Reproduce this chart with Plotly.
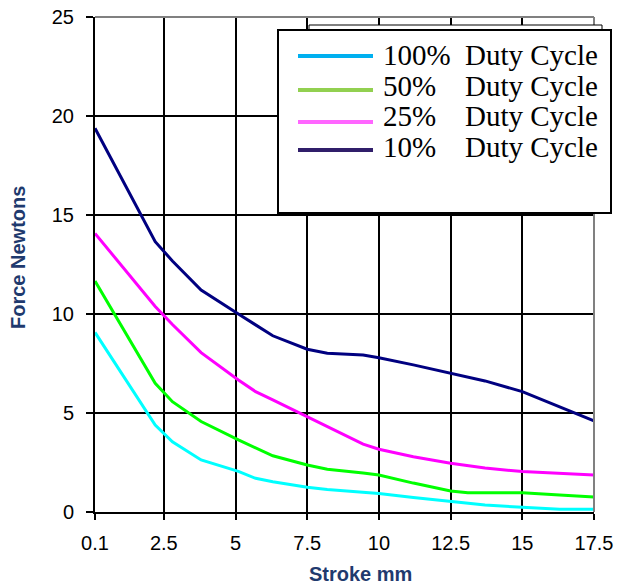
import plotly.graph_objects as go

# ---- data ----
stroke = [0.1, 2.2, 2.8, 3.8, 5.1, 5.7, 6.3, 7.5, 8.2, 9.45, 10.0, 11.2, 12.5, 13.1, 13.7, 15.0, 16.3, 17.5]
force_100 = [9.07, 4.39, 3.55, 2.63, 2.05, 1.70, 1.53, 1.25, 1.14, 1.01, 0.94, 0.73, 0.52, 0.44, 0.35, 0.24, 0.14, 0.14]
force_50 = [11.67, 6.50, 5.57, 4.57, 3.64, 3.25, 2.84, 2.37, 2.16, 1.97, 1.87, 1.46, 1.06, 0.97, 0.97, 0.97, 0.86, 0.76]
force_25 = [14.07, 10.38, 9.47, 8.05, 6.67, 6.08, 5.66, 4.81, 4.32, 3.43, 3.17, 2.79, 2.46, 2.35, 2.22, 2.04, 1.94, 1.87]
force_10 = [19.38, 13.65, 12.68, 11.21, 10.0, 9.44, 8.90, 8.22, 8.02, 7.93, 7.79, 7.43, 7.00, 6.82, 6.62, 6.08, 5.32, 4.60]

series_names = ["100%", "50%", "25%", "10%"]
series_values = [force_100, force_50, force_25, force_10]
line_colors = ["#00FFFF", "#00FF00", "#FF00FF", "#000080"]
legend_colors = ["#00B0F0", "#92D050", "#FF66FF", "#301E6A"]

x_ticks = [0.1, 2.5, 5, 7.5, 10, 12.5, 15, 17.5]
x_tick_labels = ["0.1", "2.5", "5", "7.5", "10", "12.5", "15", "17.5"]
y_ticks = [0, 5, 10, 15, 20, 25]
x_title = "Stroke mm"
y_title = "Force Newtons"

# ---- layout geometry (page pixels; body margin removed below) ----
W, H = 617, 584
L, R, T, B = 95, 594, 17, 512  # plot area


def px(x):
    return (x - L) / (R - L)


def py(y):
    return (B - y) / (B - T)


fig = go.Figure()
for name, vals, col in zip(series_names, series_values, line_colors):
    fig.add_trace(go.Scatter(x=stroke, y=vals, mode="lines", name=name,
                             line=dict(color=col, width=3), showlegend=False))

axis_font = dict(family="Liberation Sans, Arial", size=20, color="black")
title_font = dict(family="Liberation Sans, Arial", size=20, color="#1F3A6E")

fig.update_layout(
    width=W, height=H,
    margin=dict(l=L, r=W - R, t=T, b=H - B, pad=0, autoexpand=False),
    paper_bgcolor="white", plot_bgcolor="white",
    xaxis=dict(range=[0.1, 17.5], tickvals=x_ticks, ticktext=x_tick_labels,
               showgrid=True, gridcolor="black", gridwidth=1.5,
               showline=True, linecolor="black", linewidth=2,
               ticks="outside", ticklen=6, tickwidth=1.5, tickcolor="black",
               tickfont=axis_font, zeroline=False, ticklabelstandoff=6,
               automargin=False),
    yaxis=dict(range=[0, 25], tickvals=y_ticks,
               showgrid=True, gridcolor="black", gridwidth=1.5,
               showline=True, linecolor="black", linewidth=2,
               ticks="outside", ticklen=7, tickwidth=1.5, tickcolor="black",
               tickfont=axis_font, zeroline=False, ticklabelstandoff=8,
               automargin=False),
)

shapes = []
# grey top and right borders of plot area
shapes.append(dict(type="line", xref="paper", yref="paper", x0=0, x1=1, y0=1, y1=1,
                   line=dict(color="#808080", width=2)))
shapes.append(dict(type="line", xref="paper", yref="paper", x0=1, x1=1, y0=0, y1=1,
                   line=dict(color="#808080", width=2)))
# back frame behind legend
shapes.append(dict(type="rect", xref="paper", yref="paper", x0=px(309), x1=px(602),
                   y0=py(31), y1=py(25), fillcolor="white", line=dict(color="black", width=1)))
# legend box
shapes.append(dict(type="rect", xref="paper", yref="paper", x0=px(278), x1=px(611),
                   y0=py(213), y1=py(30), fillcolor="white", line=dict(color="black", width=2)))

annotations = []
row_text_y = [55, 86, 116, 147]
row_line_y = [56, 90, 122, 150]
legend_font = dict(family="Liberation Serif, Times New Roman", size=29, color="black")
for name, col, ty, ly in zip(series_names, legend_colors, row_text_y, row_line_y):
    shapes.append(dict(type="line", xref="paper", yref="paper", x0=px(298), x1=px(373),
                       y0=py(ly), y1=py(ly), line=dict(color=col, width=4)))
    annotations.append(dict(xref="paper", yref="paper", x=px(381), y=py(ty), text=name,
                            showarrow=False, xanchor="left", yanchor="middle", font=legend_font))
    annotations.append(dict(xref="paper", yref="paper", x=px(463), y=py(ty), text="Duty Cycle",
                            showarrow=False, xanchor="left", yanchor="middle", font=legend_font))

# axis titles
annotations.append(dict(xref="paper", yref="paper", x=px(360), y=py(574), text="<b>%s</b>" % x_title,
                        showarrow=False, xanchor="center", yanchor="middle", font=title_font))
annotations.append(dict(xref="paper", yref="paper", x=px(18), y=py(258), text="<b>%s</b>" % y_title,
                        showarrow=False, xanchor="center", yanchor="middle", textangle=-90,
                        font=title_font))

fig.update_layout(shapes=shapes, annotations=annotations)
fig.write_html("out.html", config={"displayModeBar": False},
               post_script="document.body.style.margin='0';document.body.style.overflow='hidden';")
